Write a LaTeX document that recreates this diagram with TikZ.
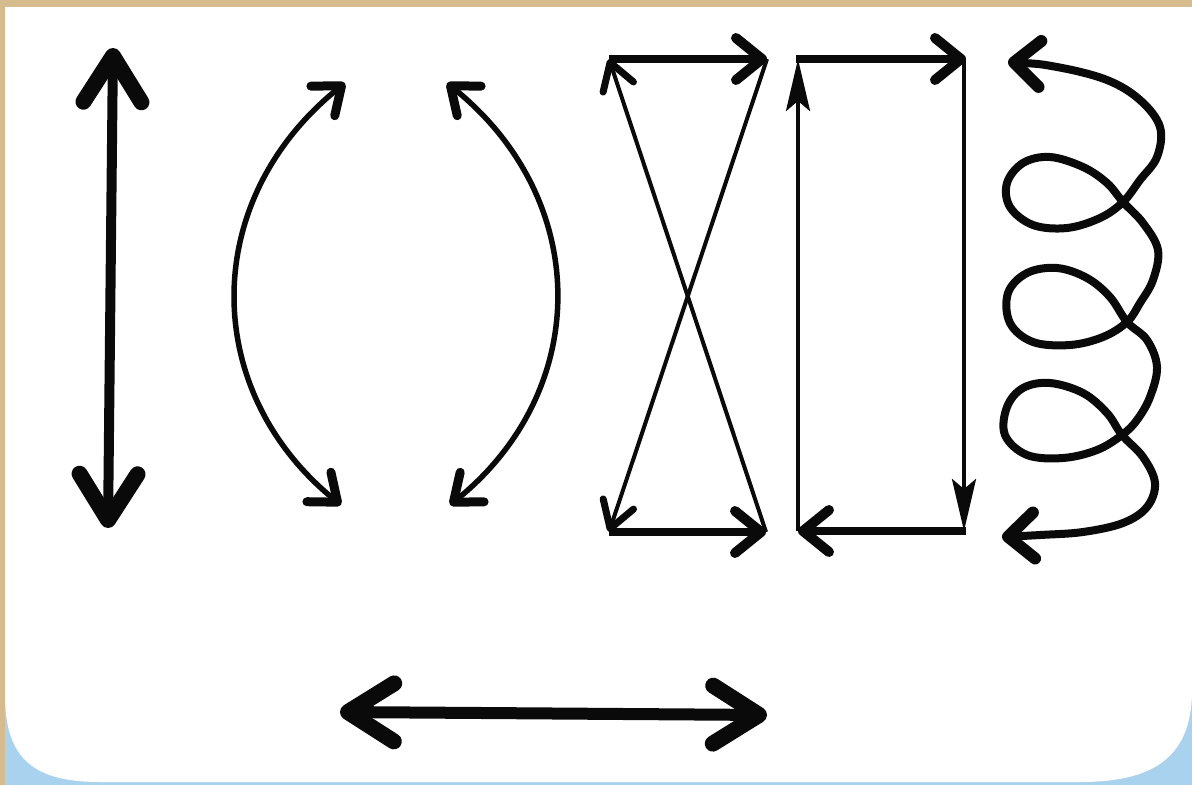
\documentclass[tikz,border=0pt]{standalone}
\usetikzlibrary{arrows.meta}
\definecolor{frametan}{RGB}{214,187,142}
\definecolor{skyblue}{RGB}{168,210,238}
\definecolor{inkblack}{RGB}{10,10,10}
\tikzset{
  bigbarb/.tip={Straight Barb[length=46pt,width=58pt,line width=16pt,round]},
  midbarb/.tip={Straight Barb[length=26pt,width=42pt,line width=10pt,round]},
  arcbarb/.tip={Straight Barb[length=24pt,width=38pt,line width=9pt,round]},
  thinbarb/.tip={Straight Barb[length=26pt,width=32pt,line width=7pt,round]},
  narrowhead/.tip={Stealth[length=52pt,width=24pt,inset=10pt]},
  spiralhead/.tip={Straight Barb[length=26pt,width=46pt,line width=12pt,round]},
  inkline/.style={draw=inkblack, line cap=butt, line join=miter},
  heavyline/.style={inkline, line width=10pt},
  boldline/.style={inkline, line width=8pt},
  arcline/.style={inkline, line width=5.5pt},
  thinline/.style={inkline, line width=4pt},
  coilline/.style={inkline, line width=8pt, line join=round},
}
\begin{document}
\begin{tikzpicture}[x=1pt,y=-1pt]
\useasboundingbox (0,0) rectangle (1192,785);
% background frame
\fill[frametan] (0,0) rectangle (1192,785);
\fill[skyblue] (5,560) rectangle (1192,785);
\fill[white] (5,7) -- (1192,7) -- (1192,690)
  .. controls (1192,760) and (1150,782) .. (1080,782) -- (100,782)
  .. controls (35,782) and (5,760) .. (5,695) -- cycle;

% 1. vertical double arrow
\coordinate (vtop) at (113,48);
\coordinate (vbot) at (108,528);
\draw[heavyline, bigbarb-bigbarb] (vbot) -- (vtop);

% 2. two arcs
\coordinate (la) at (345,83);
\coordinate (lb) at (341,505);
\coordinate (ra) at (447,83);
\coordinate (rb) at (450,505);
\draw[arcline, arcbarb-arcbarb] (la) .. controls (200,200) and (200,390) .. (lb);
\draw[arcline, arcbarb-arcbarb] (ra) .. controls (592,200) and (592,390) .. (rb);

% 3. crossed loop
\coordinate (xtl) at (609,59);
\coordinate (xtr) at (767,59);
\coordinate (xbl) at (609,532);
\coordinate (xbr) at (766,532);
\draw[boldline, -midbarb] (xtl) -- (xtr);
\draw[thinline, -thinbarb] (xtr) -- (xbl);
\draw[boldline, -midbarb] (xbl) -- (xbr);
\draw[thinline, -thinbarb] (xbr) -- (xtl);

% 4. rectangle loop
\coordinate (rtl) at (798,59);
\coordinate (rtr) at (966,59);
\coordinate (rbl) at (798,531);
\coordinate (rbr) at (964,531);
\draw[thinline, -narrowhead] (rbl) -- (rtl);
\draw[boldline, -midbarb] ([xshift=-2pt]rtl) -- (rtr);
\draw[thinline, -narrowhead] ([xshift=-2pt]rtr) -- (rbr);
\draw[boldline, -midbarb] ([xshift=2pt]rbr) -- (rbl);

% 5. coil
\draw[coilline, spiralhead-spiralhead] plot[smooth, tension=0.6] coordinates {
 (1008,62) (1057,67) (1107,80) (1140,100) (1160,127) (1157,157) (1140,180)
 (1123,202) (1100,218) (1067,228) (1033,225) (1010,207) (1007,183) (1023,163)
 (1050,157) (1083,167) (1107,183) (1123,202) (1143,223) (1158,250) (1153,280)
 (1140,303) (1127,322) (1103,337) (1070,345) (1033,342) (1010,323) (1008,293)
 (1027,273) (1057,268) (1087,278) (1110,297) (1127,322) (1147,340) (1157,367)
 (1150,397) (1137,420) (1122,435) (1097,450) (1063,458) (1027,455) (1005,435)
 (1007,407) (1023,388) (1050,383) (1083,393) (1107,413) (1122,435) (1143,457)
 (1155,483) (1147,507) (1123,523) (1083,532) (1040,535) (1002,537)};

% 6. horizontal double arrow
\coordinate (hl) at (340,712);
\coordinate (hr) at (767,715);
\draw[heavyline, line width=12pt, bigbarb-bigbarb] (hl) -- (hr);
\end{tikzpicture}
\end{document}
